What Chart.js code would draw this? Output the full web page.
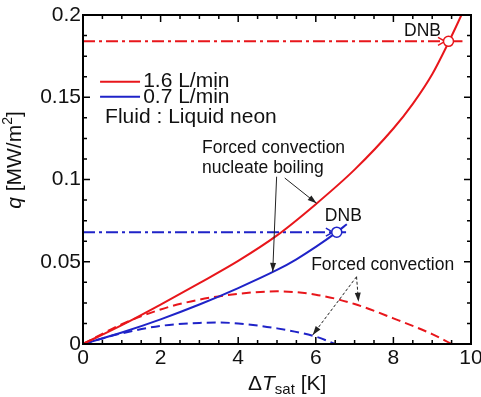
<!DOCTYPE html>
<html>
<head>
<meta charset="utf-8">
<script src="https://cdn.jsdelivr.net/npm/chart.js@4.4.1/dist/chart.umd.min.js"></script>
<style>
  html, body { margin: 0; padding: 0; background: #fff; }
  #wrap { width: 481px; height: 397px; position: relative; }
</style>
</head>
<body>
<div id="wrap"><canvas id="chart"></canvas></div>
<script>
// tick values
const xTicks = [0, 2, 4, 6, 8, 10];
const xTickLabels = ['0', '2', '4', '6', '8', '10'];
const yTicks = [0, 0.05, 0.1, 0.15, 0.2];
const yTickLabels = ['0', '0.05', '0.1', '0.15', '0.2'];

// forced convection nucleate boiling, 1.6 L/min
const nb16X = [0, 1, 2, 3, 4, 5, 6, 7, 8, 8.5, 9, 9.42, 9.8];
const nb16Q = [0, 0.0115, 0.024, 0.037, 0.0505, 0.066, 0.085, 0.106, 0.131, 0.146, 0.164, 0.1833, 0.2023];
// forced convection nucleate boiling, 0.7 L/min
const nb07X = [0, 1, 2, 3, 4, 5, 5.5, 6, 6.54, 6.8];
const nb07Q = [0, 0.007, 0.015, 0.024, 0.034, 0.045, 0.0515, 0.059, 0.068, 0.0728];
// forced convection, 1.6 L/min
const fc16X = [0, 1, 2, 3, 4, 5, 6, 7, 8, 9, 9.5];
const fc16Q = [0, 0.012, 0.021, 0.027, 0.0305, 0.032, 0.030, 0.0243, 0.0156, 0.006, 0];
// forced convection, 0.7 L/min
const fc07X = [0, 1, 2, 3, 3.5, 4, 5, 6, 6.5];
const fc07Q = [0, 0.0065, 0.011, 0.0128, 0.013, 0.0125, 0.0095, 0.0045, 0];
// DNB points
const dnbX = [9.42, 6.54];
const dnbQ = [0.184, 0.068];
const dnbLineEnd = [9.78, 6.78];

const RED = '#e8161b';
const BLUE = '#1f23c8';
const FONT = '"Liberation Sans", Arial, sans-serif';

function pts(xs, ys) {
  return xs.map((x, i) => ({ x: x, y: ys[i] }));
}

function arrowHead(ctx, x1, y1, x2, y2, len, half, color, open) {
  const a = Math.atan2(y2 - y1, x2 - x1);
  const bx = x2 - len * Math.cos(a), by = y2 - len * Math.sin(a);
  const nx = -Math.sin(a) * half, ny = Math.cos(a) * half;
  ctx.save();
  ctx.setLineDash([]);
  ctx.strokeStyle = color;
  ctx.fillStyle = color;
  ctx.beginPath();
  ctx.moveTo(bx + nx, by + ny);
  ctx.lineTo(x2, y2);
  ctx.lineTo(bx - nx, by - ny);
  if (open) { ctx.lineWidth = 1.5; ctx.stroke(); }
  else { ctx.closePath(); ctx.fill(); }
  ctx.restore();
}

function arrow(ctx, x1, y1, x2, y2, dash) {
  ctx.save();
  ctx.strokeStyle = '#222';
  ctx.lineWidth = 1;
  ctx.setLineDash(dash || []);
  ctx.beginPath();
  ctx.moveTo(x1, y1);
  ctx.lineTo(x2, y2);
  ctx.stroke();
  ctx.restore();
  arrowHead(ctx, x1, y1, x2, y2, 9, 3, '#222', false);
}

// draw a sequence of [text, font, dy] parts starting at x
function drawParts(ctx, parts, x, y) {
  parts.forEach(p => {
    ctx.font = p[1];
    ctx.fillText(p[0], x, y + (p[2] || 0));
    x += ctx.measureText(p[0]).width;
  });
}
function partsWidth(ctx, parts) {
  let w = 0;
  parts.forEach(p => { ctx.font = p[1]; w += ctx.measureText(p[0]).width; });
  return w;
}

// frame, ticks, labels and annotations under the data circles
const decor = {
  id: 'decor',
  beforeDatasetsDraw(chart) {
    const ctx = chart.ctx;
    const xs = chart.scales.x, ys = chart.scales.y;
    const px = v => xs.getPixelForValue(v);
    const py = v => ys.getPixelForValue(v);
    // arrow heads on DNB dash-dot lines
    arrowHead(ctx, px(9.0), py(dnbQ[0]), px(9.33), py(dnbQ[0]), 7, 4, RED, true);
    arrowHead(ctx, px(6.1), py(dnbQ[1]), px(6.44), py(dnbQ[1]), 7, 4, BLUE, true);
  },
  afterDatasetsDraw(chart) {
    const ctx = chart.ctx;
    const xs = chart.scales.x, ys = chart.scales.y;
    const a = chart.chartArea;
    const px = v => xs.getPixelForValue(v);
    const py = v => ys.getPixelForValue(v);

    ctx.save();
    // frame
    ctx.strokeStyle = '#000';
    ctx.lineWidth = 2;
    ctx.strokeRect(a.left, a.top, a.right - a.left, a.bottom - a.top);

    // inward ticks on all four sides
    ctx.lineWidth = 1.5;
    for (let i = 0; i <= 20; i++) {
      const v = i * 0.5;
      const L = (i % 4 === 0) ? 7 : 4;
      const x = px(v);
      ctx.beginPath();
      ctx.moveTo(x, a.bottom); ctx.lineTo(x, a.bottom - L);
      ctx.moveTo(x, a.top); ctx.lineTo(x, a.top + L);
      ctx.stroke();
    }
    for (let i = 0; i <= 16; i++) {
      const v = i * 0.0125;
      const L = (i % 4 === 0) ? 7 : 4;
      const y = py(v);
      ctx.beginPath();
      ctx.moveTo(a.left, y); ctx.lineTo(a.left + L, y);
      ctx.moveTo(a.right, y); ctx.lineTo(a.right - L, y);
      ctx.stroke();
    }

    // tick labels
    ctx.fillStyle = '#111';
    ctx.font = '21px ' + FONT;
    ctx.textAlign = 'center';
    ctx.textBaseline = 'middle';
    xTicks.forEach((v, i) => ctx.fillText(xTickLabels[i], px(v), a.bottom + 14));
    ctx.textAlign = 'right';
    yTicks.forEach((v, i) => ctx.fillText(yTickLabels[i], a.left - 2, py(v)));

    // axis titles
    ctx.textAlign = 'left';
    ctx.textBaseline = 'alphabetic';
    drawParts(ctx, [
      ['\u0394', '21px ' + FONT],
      ['T', 'italic 21px ' + FONT],
      ['sat', '15px ' + FONT, 4],
      [' [K]', '21px ' + FONT]
    ], 248, 390);

    const yParts = [
      ['q', 'italic 21px ' + FONT],
      [' [MW/m', '21px ' + FONT],
      ['2', '14px ' + FONT, -9],
      [']', '21px ' + FONT]
    ];
    ctx.save();
    ctx.translate(21, 160);
    ctx.rotate(-Math.PI / 2);
    drawParts(ctx, yParts, -partsWidth(ctx, yParts) / 2, 0);
    ctx.restore();

    // legend
    ctx.lineWidth = 2;
    ctx.strokeStyle = RED;
    ctx.beginPath(); ctx.moveTo(px(0.44), py(0.1594)); ctx.lineTo(px(1.47), py(0.1594)); ctx.stroke();
    ctx.strokeStyle = BLUE;
    ctx.beginPath(); ctx.moveTo(px(0.44), py(0.1503)); ctx.lineTo(px(1.47), py(0.1503)); ctx.stroke();
    ctx.font = '21px ' + FONT;
    ctx.textBaseline = 'middle';
    ctx.fillText('1.6 L/min', px(1.55), py(0.1600));
    ctx.fillText('0.7 L/min', px(1.55), py(0.1503));
    ctx.fillText('Fluid : Liquid neon', px(0.57), py(0.1380));

    // annotation texts
    ctx.font = '17.5px ' + FONT;
    ctx.fillText('Forced convection', px(3.07), py(0.1192));
    ctx.fillText('nucleate boiling', px(3.07), py(0.107));
    ctx.fillText('Forced convection', px(5.88), py(0.048));
    ctx.textAlign = 'center';
    ctx.fillText('DNB', px(8.75), py(0.1903));
    ctx.fillText('DNB', px(6.71), py(0.0778));

    // annotation arrows
    arrow(ctx, px(5.2), py(0.1009), px(6.02), py(0.0855));
    arrow(ctx, px(4.99), py(0.1017), px(4.89), py(0.0439));
    arrow(ctx, px(7.05), py(0.0409), px(5.92), py(0.0055), [3, 2]);
    arrow(ctx, px(7.05), py(0.0409), px(7.10), py(0.0257), [3, 2]);
    ctx.restore();
  }
};

const line = (data, color, dash) => ({
  data: data,
  showLine: true,
  borderColor: color,
  borderWidth: 2,
  borderDash: dash || [],
  pointRadius: 0,
  tension: 0.4,
  cubicInterpolationMode: 'monotone',
  fill: false
});

new Chart(document.getElementById('chart'), {
  type: 'scatter',
  data: {
    datasets: [
      line(pts(nb16X, nb16Q), RED),
      line(pts(nb07X, nb07Q), BLUE),
      line(pts(fc16X, fc16Q), RED, [9, 5]),
      line(pts(fc07X, fc07Q), BLUE, [9, 5]),
      line(pts([0, dnbLineEnd[0]], [dnbQ[0], dnbQ[0]]), RED, [12, 4, 3, 4]),
      line(pts([0, dnbLineEnd[1]], [dnbQ[1], dnbQ[1]]), BLUE, [12, 4, 3, 4]),
      {
        data: pts(dnbX, dnbQ),
        order: -1,
        showLine: false,
        pointRadius: 5,
        pointBorderWidth: 1.5,
        pointBackgroundColor: '#fff',
        pointBorderColor: [RED, BLUE]
      }
    ]
  },
  options: {
    responsive: true,
    maintainAspectRatio: false,
    animation: false,
    layout: { padding: { left: 83, right: 10, top: 15, bottom: 53 } },
    plugins: { legend: { display: false }, tooltip: { enabled: false } },
    scales: {
      x: { type: 'linear', min: 0, max: 10, display: false },
      y: { type: 'linear', min: 0, max: 0.2, display: false }
    }
  },
  plugins: [decor]
});
</script>
</body>
</html>
